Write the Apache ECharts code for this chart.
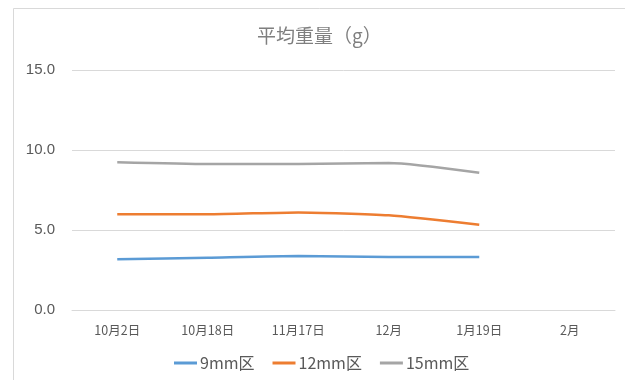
<!DOCTYPE html>
<html>
<head>
<meta charset="utf-8">
<script src="https://cdn.jsdelivr.net/npm/echarts@6/dist/echarts.min.js"></script>
<style>
  html, body { margin: 0; padding: 0; background: #fff; }
  #chart { width: 625px; height: 380px; }
</style>
</head>
<body>
<div id="chart"></div>
<script>
// Sampling dates
const categories = ['10月2日', '10月18日', '11月17日', '12月', '1月19日', '2月'];
// Average weight (g) per plot
const series9mm  = [3.17, 3.27, 3.37, 3.31, 3.31, null];
const series12mm = [5.98, 5.98, 6.10, 5.92, 5.33, null];
const series15mm = [9.23, 9.12, 9.12, 9.19, 8.58, null];
const seriesNames = ['9mm区', '12mm区', '15mm区'];
const yTicks = { min: 0, max: 15, interval: 5 };

const colors = ['#5B9BD5', '#ED7D31', '#A5A5A5'];
const textColor = '#595959';
const font = '"Noto Sans CJK JP", "Liberation Sans", sans-serif';

const chart = echarts.init(document.getElementById('chart'), null, { renderer: 'canvas' });

const lineSeries = [series9mm, series12mm, series15mm].map((data, i) => ({
  name: seriesNames[i],
  type: 'line',
  data: data,
  smooth: 0.2,
  showSymbol: false,
  lineStyle: { width: 2.5, color: colors[i] },
  itemStyle: { color: colors[i] }
}));

chart.setOption({
  animation: false,
  backgroundColor: '#ffffff',
  graphic: [{
    type: 'rect',
    shape: { x: 13.5, y: 8.5, width: 700, height: 500 },
    style: { fill: 'none', stroke: '#D9D9D9', lineWidth: 1 },
    silent: true
  }],
  title: {
    text: '平均重量（g）',
    left: 252,
    top: 21,
    textStyle: { color: '#7F7F7F', fontSize: 19, fontWeight: 'normal', fontFamily: font }
  },
  legend: {
    bottom: 9,
    left: 174,
    padding: 0,
    icon: 'rect',
    itemWidth: 23,
    itemHeight: 3,
    itemGap: 18,
    textStyle: { color: textColor, fontSize: 16, fontFamily: font, padding: [0, 0, 0, -2] }
  },
  grid: { left: 72, right: 10, top: 70, bottom: 70, containLabel: false },
  xAxis: {
    type: 'category',
    data: categories,
    boundaryGap: true,
    axisLine: { show: true, lineStyle: { color: '#D9D9D9' } },
    axisTick: { show: false },
    axisLabel: { color: textColor, fontSize: 12.5, margin: 14, fontFamily: font }
  },
  yAxis: {
    type: 'value',
    min: yTicks.min,
    max: yTicks.max,
    interval: yTicks.interval,
    axisLine: { show: false },
    axisTick: { show: false },
    splitLine: { lineStyle: { color: '#D9D9D9', width: 1 } },
    axisLabel: {
      color: textColor,
      fontSize: 15,
      margin: 17,
      fontFamily: '"Liberation Sans", sans-serif',
      formatter: v => v.toFixed(1)
    }
  },
  series: lineSeries
});
</script>
</body>
</html>
